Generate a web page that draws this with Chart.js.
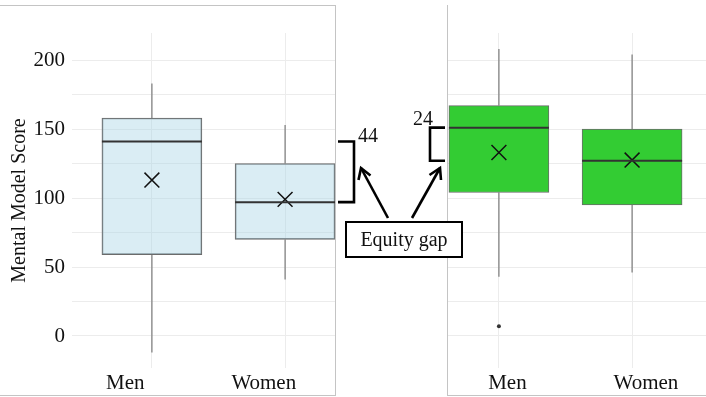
<!DOCTYPE html>
<html>
<head>
<meta charset="utf-8">
<script src="https://cdn.jsdelivr.net/npm/chart.js@4.4.1/dist/chart.umd.min.js"></script>
<style>
  body { margin: 0; background: #fff; width: 706px; height: 397px; position: relative; overflow: hidden; }
  .panel { position: absolute; top: 0; height: 397px; overflow: hidden; }
  .panel canvas { position: absolute; top: 0; }
  .rule { position: absolute; background: #c4c4c4; }
  #overlay { position: absolute; left: 0; top: 0; z-index: 5; }
</style>
</head>
<body>
<div class="panel" id="leftPanel" style="left:0; width:335px;">
  <canvas id="leftChart" width="365" height="397" style="left:0;"></canvas>
</div>
<div class="panel" id="rightPanel" style="left:447px; width:259px;">
  <canvas id="rightChart" width="365" height="397" style="left:-100px;"></canvas>
</div>
<div class="rule" style="left:0; top:5px; width:336px; height:1px;"></div>
<div class="rule" style="left:335px; top:5px; width:1px; height:391px;"></div>
<div class="rule" style="left:0; top:395px; width:336px; height:1px;"></div>
<div class="rule" style="left:447px; top:5px; width:1px; height:391px;"></div>
<div class="rule" style="left:447px; top:395px; width:259px; height:1px;"></div>
<svg id="overlay" width="706" height="397"></svg>

<script>
const groups = ["Men", "Women"];
const yTicks = [0, 50, 100, 150, 200];

// left panel (light blue boxes)
const leftMin = [-12, 41];
const leftQ1 = [59, 70];
const leftMedian = [141, 97];
const leftQ3 = [158, 125];
const leftMax = [183, 153];
const leftMean = [113, 99];
const leftOutliers = [[], []];

// right panel (green boxes)
const rightMin = [43, 46];
const rightQ1 = [104, 95];
const rightMedian = [151, 127];
const rightQ3 = [167, 150];
const rightMax = [208, 204];
const rightMean = [133, 127.5];
const rightOutliers = [[7], []];

// where the group names sit on the x scale (they are not centred under the boxes)
const leftLabelAt = [0.80, 1.84];
const rightLabelAt = [1.064, 2.104];

const FONT = "'Liberation Serif', 'Times New Roman', serif";
const TEXT = "#111111";
const GRID = "#ececec";
const BOX_W = 100;

/* whiskers behind the boxes, medians on top */
const boxParts = {
  id: "boxParts",
  beforeDatasetsDraw(chart, args, opts) {
    const { ctx, scales: { x, y } } = chart;
    ctx.save();
    ctx.strokeStyle = "#7a7a7a";
    ctx.lineWidth = 1.2;
    groups.forEach((g, i) => {
      const px = x.getPixelForValue(i + 1);
      ctx.beginPath();
      ctx.moveTo(px, y.getPixelForValue(opts.max[i]));
      ctx.lineTo(px, y.getPixelForValue(opts.q3[i]));
      ctx.moveTo(px, y.getPixelForValue(opts.q1[i]));
      ctx.lineTo(px, y.getPixelForValue(opts.min[i]));
      ctx.stroke();
    });
    ctx.restore();
  },
  afterDatasetsDraw(chart, args, opts) {
    const { ctx, scales: { x, y } } = chart;
    ctx.save();
    ctx.strokeStyle = "#333333";
    ctx.lineWidth = 2;
    groups.forEach((g, i) => {
      const px = x.getPixelForValue(i + 1);
      const py = y.getPixelForValue(opts.median[i]);
      ctx.beginPath();
      ctx.moveTo(px - BOX_W / 2, py);
      ctx.lineTo(px + BOX_W / 2, py);
      ctx.stroke();
    });
    ctx.restore();
  }
};

function makeChart(id, s, fill, labelAt) {
  const outlierPts = [];
  s.outliers.forEach((list, i) => list.forEach(v => outlierPts.push({ x: i + 1, y: v })));

  return new Chart(document.getElementById(id), {
    type: "bar",
    data: {
      datasets: [
        {
          type: "scatter",
          data: groups.map((g, i) => ({ x: i + 1, y: s.mean[i] })),
          pointStyle: "crossRot",
          pointRadius: 10.5,
          borderColor: "#111",
          borderWidth: 1.5,
          order: 0
        },
        {
          type: "scatter",
          data: outlierPts,
          pointStyle: "circle",
          pointRadius: 2,
          backgroundColor: "#333",
          borderWidth: 0,
          order: 0
        },
        {
          data: groups.map((g, i) => ({ x: i + 1, y: [s.q1[i], s.q3[i]] })),
          backgroundColor: fill,
          borderColor: "#6b6b6b",
          borderWidth: 1,
          borderSkipped: false,
          barThickness: BOX_W,
          order: 1
        }
      ]
    },
    options: {
      responsive: false,
      animation: false,
      layout: { autoPadding: false, padding: { top: 33, left: 0, right: 0, bottom: 0 } },
      plugins: {
        legend: { display: false },
        tooltip: { enabled: false },
        boxParts: s
      },
      scales: {
        x: {
          type: "linear",
          min: 0.4,
          max: 2.6,
          offset: false,
          afterBuildTicks: sc => { sc.ticks = groups.map((g, i) => ({ value: i + 1 })); },
          afterFit: sc => { sc.height = 0; sc.paddingLeft = 0; sc.paddingRight = 0; },
          border: { display: false },
          grid: { color: GRID, lineWidth: 1, drawTicks: false, offset: false },
          ticks: { display: false }
        },
        xl: {
          type: "linear",
          position: "bottom",
          min: 0.4,
          max: 2.6,
          offset: false,
          afterBuildTicks: sc => { sc.ticks = labelAt.map(v => ({ value: v })); },
          afterFit: sc => { sc.height = 29; sc.paddingLeft = 0; sc.paddingRight = 0; },
          border: { display: false },
          grid: { display: false, drawTicks: false },
          ticks: {
            padding: 3,
            color: TEXT,
            autoSkip: false,
            maxRotation: 0,
            font: { family: FONT, size: 21 },
            callback: (v, idx) => groups[idx]
          }
        },
        y: {
          min: -23.2,
          max: 219.6,
          afterFit: sc => { sc.width = 72; sc.paddingTop = 0; sc.paddingBottom = 0; },
          border: { display: false },
          grid: { color: GRID, lineWidth: 1, drawTicks: false },
          ticks: {
            stepSize: 25,
            includeBounds: false,
            padding: 7,
            color: TEXT,
            font: { family: FONT, size: 21 },
            callback: v => (yTicks.includes(v) ? v : "")
          },
          title: {
            display: true,
            text: "Mental Model Score",
            color: TEXT,
            font: { family: FONT, size: 20 },
            padding: { top: 8, bottom: 0 }
          }
        }
      }
    },
    plugins: [boxParts]
  });
}

const leftChart = makeChart("leftChart", {
  min: leftMin, q1: leftQ1, median: leftMedian, q3: leftQ3, max: leftMax,
  mean: leftMean, outliers: leftOutliers
}, "rgba(173,216,230,0.45)", leftLabelAt);

const rightChart = makeChart("rightChart", {
  min: rightMin, q1: rightQ1, median: rightMedian, q3: rightQ3, max: rightMax,
  mean: rightMean, outliers: rightOutliers
}, "#33cc33", rightLabelAt);

/* ===== EQUITY GAP ANNOTATION ===== */
function drawAnnotation() {
  const svg = document.getElementById("overlay");
  const ly = leftChart.scales.y;
  const ry = rightChart.scales.y;
  const lTop = ly.getPixelForValue(leftMedian[0]);
  const lBot = ly.getPixelForValue(leftMedian[1]);
  const rTop = ry.getPixelForValue(rightMedian[0]);
  const rBot = ry.getPixelForValue(rightMedian[1]);
  const gapL = leftMedian[0] - leftMedian[1];
  const gapR = rightMedian[0] - rightMedian[1];

  svg.innerHTML = `
    <g fill="none" stroke="#000" stroke-width="2.6">
      <polyline points="338,${lTop} 354,${lTop} 354,${lBot} 338,${lBot}"/>
      <polyline points="445,${rTop} 430,${rTop} 430,${rBot} 445,${rBot}"/>
      <line x1="388" y1="218" x2="361" y2="168"/>
      <polyline points="358.5,180 361,168 370.5,175.5"/>
      <line x1="412" y1="218" x2="440" y2="168"/>
      <polyline points="429.5,175 440,168 441,180"/>
    </g>
    <text x="358" y="142" font-family="${FONT}" font-size="20" fill="${TEXT}">${gapL}</text>
    <text x="433" y="125" text-anchor="end" font-family="${FONT}" font-size="20" fill="${TEXT}">${gapR}</text>
    <rect x="346" y="222" width="116" height="35" fill="#fff" stroke="#000" stroke-width="2"/>
    <text x="404" y="246" text-anchor="middle" font-family="${FONT}" font-size="20" fill="${TEXT}">Equity gap</text>
  `;
}
drawAnnotation();
</script>
</body>
</html>
